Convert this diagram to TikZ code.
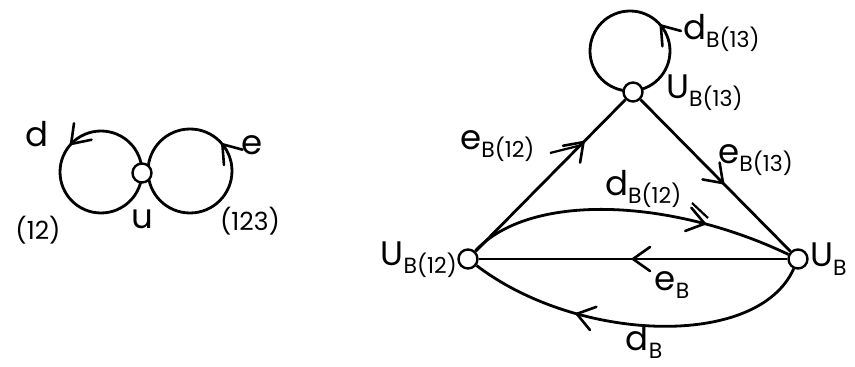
\documentclass[tikz,border=0pt]{standalone}
\usepackage{fontspec}
\setmainfont{Poppins}
\usetikzlibrary{decorations.markings,calc}
\newcommand\lowsub[1]{\raisebox{-0.45ex}{\fontsize{22}{22}\selectfont #1}}
\tikzset{
  edge/.style={line width=2.8pt},
  vert/.style={circle,draw,line width=2.4pt,fill=white,minimum size=19pt,inner sep=0pt},
  lbl/.style={font=\fontsize{34}{36}\selectfont,inner sep=0pt},
  midarrow/.style={postaction={decorate,decoration={markings,
      mark=at position #1 with {\draw[line width=2.6pt,line cap=round,line join=round]
        (-17pt,12pt) -- (0pt,0pt) -- (-17pt,-12pt);}}}},
}
\begin{document}
\begin{tikzpicture}[x=1pt,y=1pt]
\useasboundingbox (0,0) rectangle (855,367);
\fill[white] (0,0) rectangle (855,367);

% ---- one-vertex graph with two loops ----
\coordinate (cL) at (101,195);
\coordinate (cR) at (190,196);
\draw[edge,midarrow=0.38] ($(cL)+(0:41)$) arc[start angle=0,end angle=360,radius=41];
\draw[edge,midarrow=0.11] ($(cR)+(0:42)$) arc[start angle=0,end angle=360,radius=42];
\node[vert] (u) at (142,194) {};
\node[lbl] (ld) at (37,233) {d};
\node[lbl] (le) at (252,222) {e};
\node[lbl,font=\fontsize{25}{25}\selectfont] (l12) at (38,137) {(12)};
\node[lbl] (lu) at (142,148) {u};
\node[lbl,font=\fontsize{25}{25}\selectfont] (l123) at (250,146) {(123)};

% ---- covering graph ----
\coordinate (cT) at (630,316);
\draw[edge,midarrow=0.11] ($(cT)+(0:40)$) arc[start angle=0,end angle=360,radius=40];
\node[vert] (T) at (633,275) {};
\node[vert] (L) at (468,108) {};
\node[vert] (R) at (798,108) {};

\draw[edge,midarrow=0.72] (L) -- (T);
\draw[edge,midarrow=0.55] (T) -- (R);
\draw[edge,midarrow=0.5] (R) -- (L);
\draw[edge,midarrow=0.73] (L) .. controls ($(L)+(60,66)$) and ($(R)+(-130,62)$) .. (R);
\draw[edge,midarrow=0.68] (R) .. controls ($(R)+(-40,-90)$) and ($(L)+(110,-84)$) .. (L);

\node[lbl,anchor=west] (ldB13) at (683,334) {d\lowsub{B(13)}};
\node[lbl,anchor=west] (luB13) at (666,274) {U\lowsub{B(13)}};
\node[lbl,anchor=west] (leB12) at (460,221) {e\lowsub{B(12)}};
\node[lbl,anchor=west] (leB13) at (718,207) {e\lowsub{B(13)}};
\node[lbl,anchor=west] (ldB12) at (605,178) {d\lowsub{B(12)}};
\node[lbl,anchor=east] (luB12) at (457,107) {U\lowsub{B(12)}};
\node[lbl,anchor=west] (luB) at (810,108) {U\lowsub{B}};
\node[lbl] (leB) at (672,82) {e\lowsub{B}};
\node[lbl] (ldB) at (644,25) {d\lowsub{B}};

% leader strokes from labels to their edges
\draw[line width=2.2pt] (550,214) -- (582,222);
\draw[line width=2.2pt] (692,164) -- (708,149);
\end{tikzpicture}
\end{document}
